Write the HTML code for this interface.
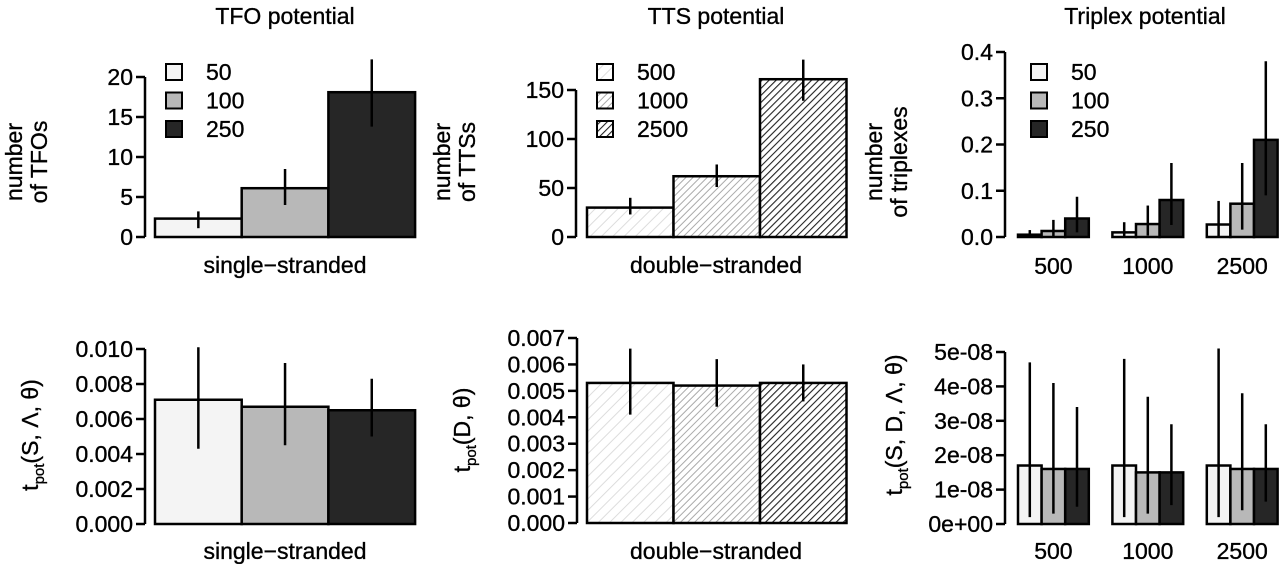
<!DOCTYPE html>
<html><head><meta charset="utf-8"><style>
body{margin:0;background:#fff}
svg{display:block;font-family:"Liberation Sans",Arial,sans-serif}
svg text{stroke:#000;stroke-width:0.35px}
</style></head><body>
<svg id="c" width="1280" height="564" viewBox="0 0 1280 564">
<defs>
<pattern id="h1" patternUnits="userSpaceOnUse" width="8" height="8" patternTransform="rotate(45)"><rect width="8" height="8" fill="#fff"/><line x1="0" y1="0" x2="0" y2="8" stroke="#ddd" stroke-width="2"/></pattern>
<pattern id="h2" patternUnits="userSpaceOnUse" width="5" height="5" patternTransform="rotate(45)"><rect width="5" height="5" fill="#fff"/><line x1="0" y1="0" x2="0" y2="5" stroke="#aaa" stroke-width="2"/></pattern>
<pattern id="h3" patternUnits="userSpaceOnUse" width="5" height="5" patternTransform="rotate(45)"><rect width="5" height="5" fill="#fff"/><line x1="0" y1="0" x2="0" y2="5" stroke="#222" stroke-width="2.2"/></pattern>
</defs>
</svg>
<script>
// ---- data ----
const tfoCats=["50","100","250"];
const tfoVals=[2.3,6.1,18.1];
const tfoLo=[1.1,4.0,13.8];
const tfoHi=[3.2,8.5,22.2];
const tfoTicks=[0,5,10,15,20];

const ttsCats=["500","1000","2500"];
const ttsVals=[30,62,161];
const ttsLo=[23,51,139];
const ttsHi=[40,74,181];
const ttsTicks=[0,50,100,150];

const triGroups=["500","1000","2500"];
const triVals=[[0.005,0.013,0.04],[0.01,0.028,0.08],[0.027,0.072,0.21]];
const triLo=[[0,0,0.01],[0,0.003,0.026],[0,0.016,0.09]];
const triHi=[[0.015,0.037,0.087],[0.032,0.068,0.16],[0.078,0.16,0.38]];
const triTicks=["0.0","0.1","0.2","0.3","0.4"];

const tsVals=[0.0071,0.0067,0.0065];
const tsLo=[0.0043,0.0045,0.0050];
const tsHi=[0.0101,0.0092,0.0083];
const tsTicks=["0.000","0.002","0.004","0.006","0.008","0.010"];

const tdVals=[0.0053,0.0052,0.0053];
const tdLo=[0.0041,0.0044,0.0046];
const tdHi=[0.0066,0.0062,0.0060];
const tdTicks=["0.000","0.001","0.002","0.003","0.004","0.005","0.006","0.007"];

const tpVals=[[1.7e-8,1.6e-8,1.6e-8],[1.7e-8,1.5e-8,1.5e-8],[1.7e-8,1.6e-8,1.6e-8]];
const tpLo=[[0.2e-8,0.3e-8,0.5e-8],[0.2e-8,0.3e-8,0.55e-8],[0.2e-8,0.4e-8,0.65e-8]];
const tpHi=[[4.7e-8,4.1e-8,3.4e-8],[4.8e-8,3.7e-8,2.9e-8],[5.1e-8,3.8e-8,2.9e-8]];
const tpTicks=["0e+00","1e-08","2e-08","3e-08","4e-08","5e-08"];

const greys=["#f4f4f4","#b8b8b8","#262626"];
const hatches=["url(#h1)","url(#h2)","url(#h3)"];

const FS=23;
const svg=document.getElementById('c');
const NS='http://www.w3.org/2000/svg';
function el(tag,attrs,parent){const e=document.createElementNS(NS,tag);for(const k in attrs)e.setAttribute(k,attrs[k]);(parent||svg).appendChild(e);return e;}
function txt(x,y,s,anchor,parent,size){const t=el('text',{x:x,y:y,'text-anchor':anchor||'middle','font-size':size||FS},parent);t.textContent=s;return t;}

function axis(g,ax,y0,yTop,vmax,ticks){
  const ys=v=>y0-(v/vmax)*(y0-yTop);
  const a=el('g',{},g);
  
  
  el('line',{x1:ax,x2:ax,y1:ys(0),y2:ys(Number(ticks[ticks.length-1])),stroke:'#000','stroke-width':2.5},a);
  ticks.forEach(t=>{const y=ys(Number(t));
    el('line',{x1:ax-9,x2:ax,y1:y,y2:y,stroke:'#000','stroke-width':2.5},a);
    const l=txt(ax-12,y+8,String(t),'end',a);
    
    
  });
  return ys;
}
function bar(g,x,w,ys,v,lo,hi,fill){
  const b=el('rect',{x:x,y:ys(v),width:w,height:ys(0)-ys(v),fill:fill,stroke:'#000','stroke-width':2.5},g);
  
  
  const e=el('line',{x1:x+w/2,x2:x+w/2,y1:ys(lo),y2:ys(hi),stroke:'#000','stroke-width':2.5},g);
  
  
}
function ylabel(g,cx,cy,lines){
  const t=el('text',{transform:`translate(${cx},${cy}) rotate(-90)`,'text-anchor':'middle','font-size':FS},g);
  
  
  lines.forEach((s,i)=>{const sp=el('tspan',{x:0,dy:i?25:0},t);sp.textContent=s;});
}
function tpotLabel(g,cx,cy,rest){
  const t=el('text',{transform:`translate(${cx},${cy}) rotate(-90)`,'text-anchor':'middle','font-size':FS},g);
  
  
  const a=el('tspan',{},t);a.textContent='t';
  const b=el('tspan',{'font-size':15,dy:6},t);b.textContent='pot';
  const c=el('tspan',{dy:-6},t);c.textContent=rest;
}
function legend(g,x,y,cats,fills){
  cats.forEach((c,i)=>{
    const it=el('g',{},g);
    
    
    const yy=y+i*28.5;
    el('rect',{x:x,y:yy-8,width:16,height:16,fill:fills[i],stroke:'#000','stroke-width':2},it);
    txt(x+40,yy+8,c,'start',it);
  });
}
function panel(name){const g=el('g',{});return g;}

// Panel 1: TFO
{const g=panel('tfo-count-panel');
 const t=txt(285,24,'TFO potential','middle',g);
 const ys=axis(g,145,237,77,20,tfoTicks);
 tfoVals.forEach((v,i)=>bar(g,155+i*86.7,86.7,ys,v,tfoLo[i],tfoHi[i],greys[i]));
 legend(g,166,72,tfoCats,greys);
 const x=txt(285,273,'single\u2212stranded','middle',g);
 ylabel(g,22,162,['number','of TFOs']);}
// Panel 2: TTS
{const g=panel('tts-count-panel');
 const t=txt(716,24,'TTS potential','middle',g);
 const ys=axis(g,576,237,90,150,ttsTicks);
 ttsVals.forEach((v,i)=>bar(g,587+i*86.5,86.5,ys,v,ttsLo[i],ttsHi[i],hatches[i]));
 legend(g,597,72,ttsCats,hatches);
 const x=txt(716,273,'double\u2212stranded','middle',g);
 ylabel(g,450,162,['number','of TTSs']);}
// Panel 3: Triplex
{const g=panel('triplex-count-panel');
 const t=txt(1145,24,'Triplex potential','middle',g);
 const ys=axis(g,1005,237,52,0.4,triTicks);
 const w=23.6;
 triGroups.forEach((gr,j)=>{triVals[j].forEach((v,i)=>bar(g,1018+j*4*w+i*w,w,ys,v,triLo[j][i],triHi[j][i],greys[i]));
   const l=txt(1018+j*4*w+1.5*w,274,gr,'middle',g);});
 legend(g,1031,72,tfoCats,greys);
 ylabel(g,882,162,['number','of triplexes']);}
// Panel 4
{const g=panel('tpot-single-panel');
 const ys=axis(g,145,524,349,0.010,tsTicks);
 tsVals.forEach((v,i)=>bar(g,155+i*86.7,86.7,ys,v,tsLo[i],tsHi[i],greys[i]));
 const x=txt(285,559,'single\u2212stranded','middle',g);
 tpotLabel(g,38,435,'(S, \u039B, \u03B8)');}
// Panel 5
{const g=panel('tpot-double-panel');
 const ys=axis(g,577,523,338,0.007,tdTicks);
 tdVals.forEach((v,i)=>bar(g,587+i*86.5,86.5,ys,v,tdLo[i],tdHi[i],hatches[i]));
 const x=txt(716,559,'double\u2212stranded','middle',g);
 tpotLabel(g,470,430,'(D, \u03B8)');}
// Panel 6
{const g=panel('tpot-triplex-panel');
 const ys=axis(g,1005,524,352,5e-8,tpTicks);
 const w=23.6;
 triGroups.forEach((gr,j)=>{tpVals[j].forEach((v,i)=>bar(g,1018+j*4*w+i*w,w,ys,v,tpLo[j][i],tpHi[j][i],greys[i]));
   const l=txt(1018+j*4*w+1.5*w,559,gr,'middle',g);});
 tpotLabel(g,902,425,'(S, D, \u039B, \u03B8)');}
</script>
</body></html>
